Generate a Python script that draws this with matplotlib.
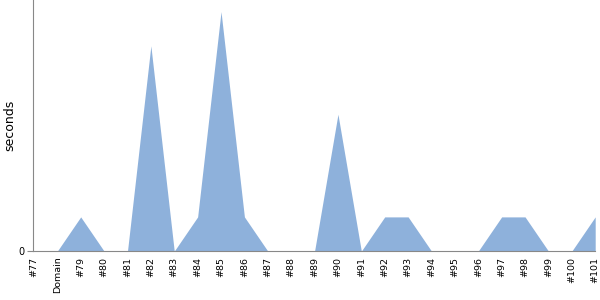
import numpy as np
import matplotlib
matplotlib.use("Agg")
import matplotlib.pyplot as plt

labels = ["#77", "Domain", "#79", "#80", "#81", "#82", "#83", "#84", "#85",
          "#86", "#87", "#88", "#89", "#90", "#91", "#92", "#93", "#94",
          "#95", "#96", "#97", "#98", "#99", "#100", "#101"]
seconds = [0, 0, 1, 0, 0, 6, 0, 1, 7, 1, 0, 0, 0, 4, 0, 1, 1, 0,
           0, 0, 1, 1, 0, 0, 1]

fig = plt.figure(figsize=(6, 3), dpi=100)
ax = fig.add_axes([0.055, 0.163, 0.937, 0.837])

x = np.arange(len(labels))
ax.fill_between(x, seconds, color="#8eb1db", linewidth=0)

ax.set_xlim(-0.04, len(labels) - 1)
ax.set_ylim(0, 7.34)
ax.set_yticks([0])
ax.set_xticks(x)
ax.set_xticklabels(labels, rotation=90, fontsize=6.8)
ax.tick_params(axis="y", labelsize=7, length=4, pad=2, color="#888888")
ax.tick_params(axis="x", length=0, pad=4)
ax.set_ylabel("seconds", fontsize=9)
ax.yaxis.set_label_coords(-0.030, 0.5)

for side in ["top", "right"]:
    ax.spines[side].set_visible(False)
for side in ["left", "bottom"]:
    ax.spines[side].set_color("#888888")

fig.savefig("out.png", dpi=100)
